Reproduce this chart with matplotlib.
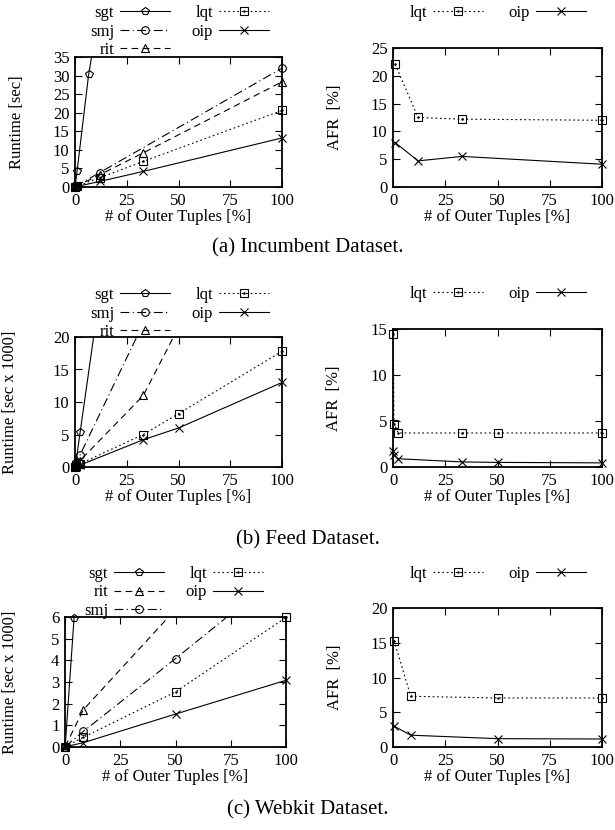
import numpy as np
import matplotlib
matplotlib.use("Agg")
import matplotlib.pyplot as plt

plt.rcParams["font.family"] = ["Liberation Serif", "DejaVu Serif"]
plt.rcParams["font.size"] = 12

# ---- (a) Incumbent: runtime [sec]
inc_sgt_x = [0.1, 1, 6.6, 12]
inc_sgt_y = [0.3, 4.3, 30.3, 48]
inc_smj_x = [0.1, 1, 12, 100]
inc_smj_y = [0.1, 0.4, 3.9, 32]
inc_rit_x = [0.1, 1, 12, 33, 100]
inc_rit_y = [0.1, 0.3, 3.3, 9.2, 28.3]
inc_lqt_x = [0.1, 1, 12, 33, 100]
inc_lqt_y = [0.1, 0.25, 2.5, 6.9, 20.6]
inc_oip_x = [0.1, 1, 12, 33, 100]
inc_oip_y = [0.05, 0.15, 1.5, 4.2, 13.2]
# (a) AFR [%]
inc_afr_x = [1, 12, 33, 100]
inc_afr_lqt = [22.1, 12.5, 12.2, 12.0]
inc_afr_oip = [8.0, 4.7, 5.5, 4.1]

# ---- (b) Feed: runtime [sec x 1000]
feed_sgt_x = [0.1, 0.5, 2.5, 33]
feed_sgt_y = [0.1, 0.8, 5.4, 74]
feed_smj_x = [0.1, 0.5, 2.5, 33]
feed_smj_y = [0.05, 0.4, 1.9, 22.1]
feed_rit_x = [0.1, 0.5, 2.5, 33, 50]
feed_rit_y = [0.03, 0.2, 1.0, 11.0, 21.5]
feed_lqt_x = [0.1, 0.5, 2.5, 33, 50, 100]
feed_lqt_y = [0.02, 0.1, 0.5, 5.0, 8.2, 17.8]
feed_oip_x = [0.1, 0.5, 2.5, 33, 50, 100]
feed_oip_y = [0.01, 0.05, 0.3, 4.2, 6.0, 13.0]
# (b) AFR [%]
feed_afr_x = [0.1, 0.5, 2.5, 33, 50, 100]
feed_afr_lqt = [14.5, 4.7, 3.7, 3.7, 3.7, 3.7]
feed_afr_oip = [1.7, 1.3, 0.9, 0.55, 0.5, 0.45]

# ---- (c) Webkit: runtime [sec x 1000]
web_sgt_x = [0.1, 4.1, 8.3]
web_sgt_y = [0.05, 5.95, 12]
web_rit_x = [0.1, 8.3, 50]
web_rit_y = [0.02, 1.72, 6.35]
web_smj_x = [0.1, 8.3, 50, 100]
web_smj_y = [0.02, 0.72, 4.08, 8.2]
web_lqt_x = [0.1, 8.3, 50, 100]
web_lqt_y = [0.01, 0.45, 2.54, 5.98]
web_oip_x = [0.1, 8.3, 50, 100]
web_oip_y = [0.01, 0.2, 1.52, 3.08]
# (c) AFR [%]
web_afr_x = [0.5, 8.5, 50, 100]
web_afr_lqt = [15.3, 7.3, 7.05, 7.05]
web_afr_oip = [3.0, 1.7, 1.2, 1.15]

xticks = [0, 25, 50, 75, 100]

styles = {
    "sgt": dict(ls="-", marker="p"),
    "smj": dict(ls=(0, (8, 3, 1, 3)), marker="o"),
    "rit": dict(ls=(0, (6, 4)), marker="^"),
    "lqt": dict(ls=(0, (1.5, 2.5)), marker="s"),
    "oip": dict(ls="-", marker="x"),
}

FS = 12
LW = 0.8
MS = 5.5


def plot_series(ax, name, x, y, ymax):
    st = styles[name]
    x = np.asarray(x)
    y = np.asarray(y)
    ax.plot(x, y, color="black", lw=LW, ls=st["ls"], clip_on=True)
    keep = y <= ymax
    ax.plot(x[keep], y[keep], ls="none", marker=st["marker"], ms=MS,
            mfc="none", mec="black", mew=0.8, clip_on=False)
    proxy = ax.plot([], [], color="black", lw=LW, ls=st["ls"], marker=st["marker"],
                    ms=MS, mfc="none", mec="black", mew=0.8)[0]
    if name == "lqt":
        # gnuplot's square has a dot in the middle
        ax.plot(x[keep], y[keep], ls="none", marker=".", ms=1.6, color="black",
                clip_on=False)
        dot = ax.plot([], [], ls="none", marker=".", ms=1.6, color="black")[0]
        return (proxy, dot), name
    return proxy, name


def style_axes(ax, ymax, ystep, ylabel, ylab_x):
    ax.set_xlim(0, 100)
    ax.set_ylim(0, ymax)
    ax.set_xticks(xticks)
    ax.set_yticks(np.arange(0, ymax + 0.01, ystep))
    ax.tick_params(direction="in", top=True, right=True, length=5, width=0.8,
                   labelsize=FS, pad=4)
    for s in ax.spines.values():
        s.set_linewidth(1.3)
    ax.set_xlabel("# of Outer Tuples [%]", fontsize=FS, labelpad=0)
    ax.set_ylabel(ylabel, fontsize=FS)
    ax.yaxis.set_label_coords(ylab_x, 0.5)


def add_legend(fig, entries, anchor, colsp=1.3):
    handles = [h for h, _ in entries]
    labels = [l for _, l in entries]
    fig.legend(handles, labels, loc="upper left", bbox_to_anchor=anchor,
               ncol=2, frameon=False, markerfirst=False, fontsize=FS,
               handlelength=3.0, handletextpad=0.35, columnspacing=colsp,
               labelspacing=0.15, borderpad=0, borderaxespad=0)


W, H = 615, 830
fig = plt.figure(figsize=(W / 100, H / 100), dpi=100)


def box(x0, x1, ytop, ybot):
    return [x0 / W, 1 - ybot / H, (x1 - x0) / W, (ybot - ytop) / H]


# ---------- (a)
ax = fig.add_axes(box(75, 282, 57, 187))
es = [plot_series(ax, "sgt", inc_sgt_x, inc_sgt_y, 35),
      plot_series(ax, "smj", inc_smj_x, inc_smj_y, 35),
      plot_series(ax, "rit", inc_rit_x, inc_rit_y, 35),
      plot_series(ax, "lqt", inc_lqt_x, inc_lqt_y, 35),
      plot_series(ax, "oip", inc_oip_x, inc_oip_y, 35)]
style_axes(ax, 35, 5, "Runtime [sec]", (25 - 75) / 207)
add_legend(fig, es, (90 / W, 1 - 5 / H))

ax = fig.add_axes(box(393, 602, 48, 187))
es = [plot_series(ax, "lqt", inc_afr_x, inc_afr_lqt, 25),
      plot_series(ax, "oip", inc_afr_x, inc_afr_oip, 25)]
style_axes(ax, 25, 5, "AFR  [%]", (343 - 393) / 209)
add_legend(fig, es, (410 / W, 1 - 5 / H), colsp=1.5)

fig.text(308 / W, 1 - 248 / H, "(a) Incumbent Dataset.", ha="center", va="center",
         fontsize=15)

# ---------- (b)
ax = fig.add_axes(box(75, 282, 337, 467))
es = [plot_series(ax, "sgt", feed_sgt_x, feed_sgt_y, 20),
      plot_series(ax, "smj", feed_smj_x, feed_smj_y, 20),
      plot_series(ax, "rit", feed_rit_x, feed_rit_y, 20),
      plot_series(ax, "lqt", feed_lqt_x, feed_lqt_y, 20),
      plot_series(ax, "oip", feed_oip_x, feed_oip_y, 20)]
style_axes(ax, 20, 5, "Runtime [sec x 1000]", (18 - 75) / 207)
add_legend(fig, es, (90 / W, 1 - 287 / H))

ax = fig.add_axes(box(393, 602, 329, 467))
es = [plot_series(ax, "lqt", feed_afr_x, feed_afr_lqt, 15),
      plot_series(ax, "oip", feed_afr_x, feed_afr_oip, 15)]
style_axes(ax, 15, 5, "AFR  [%]", (342 - 393) / 209)
add_legend(fig, es, (410 / W, 1 - 286 / H), colsp=1.5)

fig.text(308 / W, 1 - 540 / H, "(b) Feed Dataset.", ha="center", va="center",
         fontsize=15)

# ---------- (c)
ax = fig.add_axes(box(65, 286, 617, 747))
es = [plot_series(ax, "sgt", web_sgt_x, web_sgt_y, 6),
      plot_series(ax, "rit", web_rit_x, web_rit_y, 6),
      plot_series(ax, "smj", web_smj_x, web_smj_y, 6),
      plot_series(ax, "lqt", web_lqt_x, web_lqt_y, 6),
      plot_series(ax, "oip", web_oip_x, web_oip_y, 6)]
style_axes(ax, 6, 1, "Runtime [sec x 1000]", (18 - 65) / 221)
add_legend(fig, es, (84 / W, 1 - 566 / H))

ax = fig.add_axes(box(393, 602, 608, 747))
es = [plot_series(ax, "lqt", web_afr_x, web_afr_lqt, 20),
      plot_series(ax, "oip", web_afr_x, web_afr_oip, 20)]
style_axes(ax, 20, 5, "AFR  [%]", (343 - 393) / 209)
add_legend(fig, es, (410 / W, 1 - 566 / H), colsp=1.5)

fig.text(308 / W, 1 - 810 / H, "(c) Webkit Dataset.", ha="center", va="center",
         fontsize=15)

fig.savefig("out.png", dpi=100)
